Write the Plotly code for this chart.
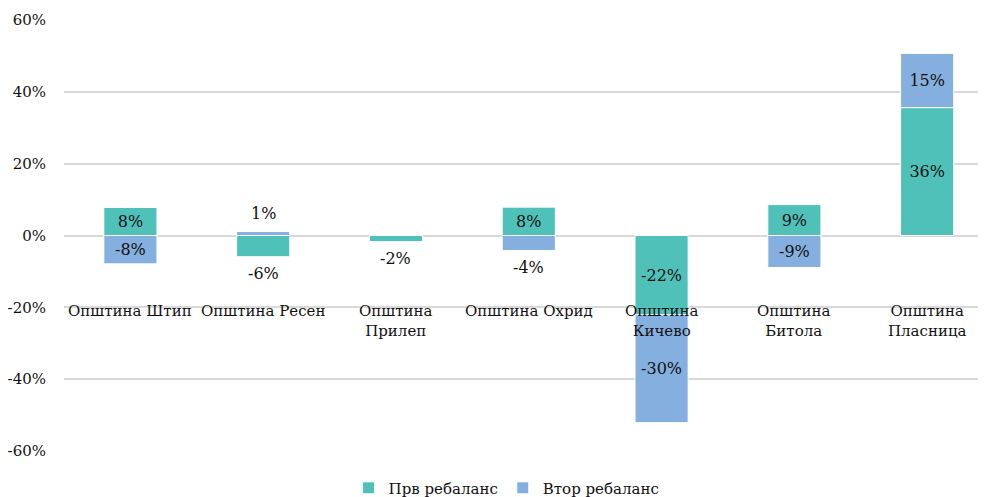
import plotly.graph_objects as go

categories = ["Општина Штип", "Општина Ресен", "Општина<br>Прилеп", "Општина Охрид",
              "Општина<br>Кичево", "Општина<br>Битола", "Општина<br>Пласница"]
series_names = ["Прв ребаланс", "Втор ребаланс"]
prv = [7.8, -5.9, -1.7, 7.9, -22.1, 8.6, 35.6]
vtor = [-7.9, 1.1, None, -4.2, -30.0, -8.9, 15.1]
y_ticks = [-60, -40, -20, 0, 20, 40, 60]
y_ticklabels = ["-60%", "-40%", "-20%", "0%", "20%", "40%", "60%"]

colors = ["#4FC1B9", "#85AFDF"]
FONT = "DejaVu Serif"
TXT = "#111111"
THRESH = 7  # bars smaller than this get their label outside the bar end


def labels(vals):
    return ["" if (v is None or abs(v) < THRESH) else f"{round(v)}%" for v in vals]


fig = go.Figure()
for name, vals, col in [(series_names[0], prv, colors[0]), (series_names[1], vtor, colors[1])]:
    fig.add_trace(go.Bar(
        x=categories, y=vals, name=name,
        marker=dict(color=col, line=dict(color="white", width=1)),
        width=0.4,
        text=labels(vals), textposition="inside",
        insidetextanchor="middle",
        textfont=dict(family=FONT, size=16, color=TXT),
        insidetextfont=dict(family=FONT, size=16, color=TXT),
        constraintext="none", cliponaxis=False,
    ))

# outside labels for small segments, placed beyond the stacked end of the bar
pos_sum = [0.0] * len(categories)
neg_sum = [0.0] * len(categories)
for vals in (prv, vtor):
    for i, v in enumerate(vals):
        if v is None:
            continue
        if v >= 0:
            pos_sum[i] += v
            end = pos_sum[i]
        else:
            neg_sum[i] += v
            end = neg_sum[i]
        if abs(v) < THRESH:
            fig.add_annotation(x=categories[i], y=end, text=f"{round(v)}%", showarrow=False,
                               yanchor="middle", yshift=18 if v >= 0 else -17,
                               font=dict(family=FONT, size=16, color=TXT))

for c in categories:
    fig.add_annotation(x=c, y=-18.0, yanchor="top", text=c, showarrow=False,
                       font=dict(family=FONT, size=15, color=TXT))

# page body has an 8px default margin, so the figure is sized/placed to compensate
fig.update_layout(
    barmode="relative",
    width=978, height=489,
    margin=dict(l=56, r=0, t=12, b=46, autoexpand=False),
    plot_bgcolor="white", paper_bgcolor="white",
    font=dict(family=FONT, size=15, color=TXT),
    showlegend=True,
    legend=dict(orientation="h", x=0.48, xanchor="center", y=-0.086, yanchor="middle",
                font=dict(family=FONT, size=15, color=TXT), traceorder="normal"),
    xaxis=dict(range=[-0.5, 6.443], showticklabels=False, showgrid=False, zeroline=False,
               showline=False),
    yaxis=dict(range=[-60, 60], tickvals=y_ticks, ticktext=y_ticklabels,
               showgrid=True, gridcolor="#D9D9D9", gridwidth=1.5, zeroline=False,
               showline=False, ticks="outside", ticklen=14, tickcolor="white",
               tickfont=dict(family=FONT, size=15, color=TXT)),
)

fig.write_html("out.html")
